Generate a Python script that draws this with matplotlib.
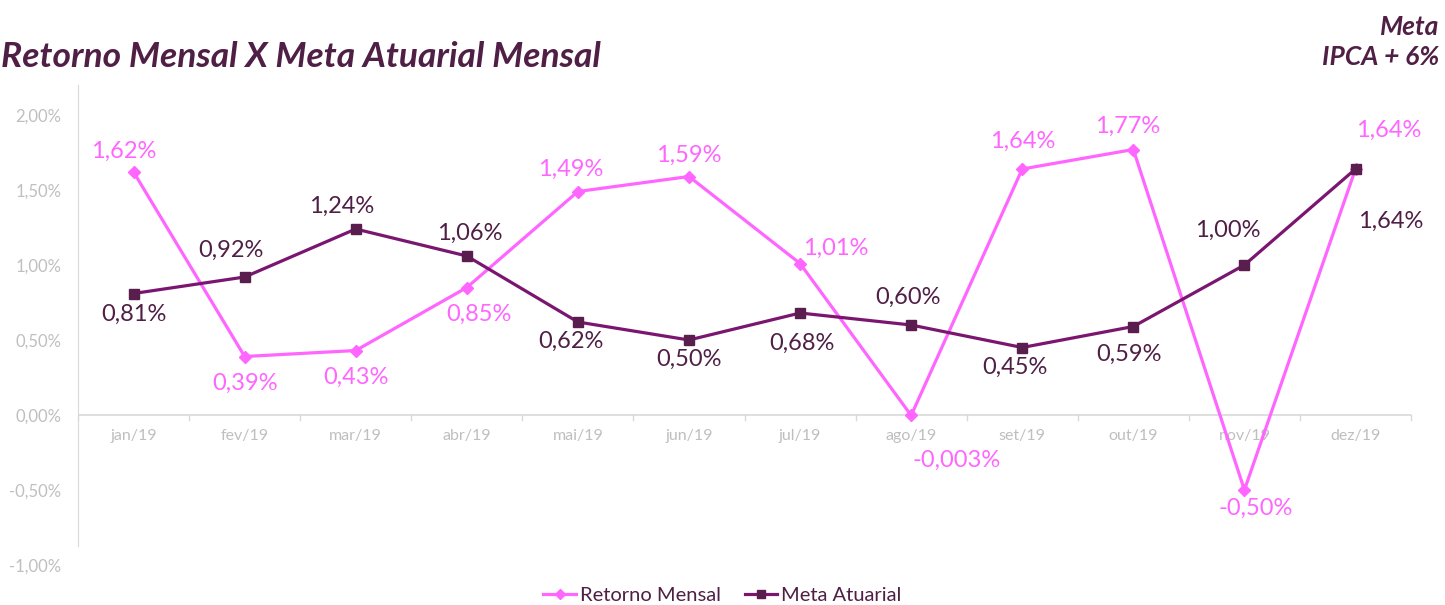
import matplotlib.pyplot as plt
from matplotlib.ticker import FuncFormatter

# data
months = ["jan/19", "fev/19", "mar/19", "abr/19", "mai/19", "jun/19",
          "jul/19", "ago/19", "set/19", "out/19", "nov/19", "dez/19"]
retorno = [1.62, 0.39, 0.43, 0.85, 1.49, 1.59, 1.01, -0.003, 1.64, 1.77, -0.50, 1.64]
meta = [0.81, 0.92, 1.24, 1.06, 0.62, 0.50, 0.68, 0.60, 0.45, 0.59, 1.00, 1.64]
retorno_labels = ["1,62%", "0,39%", "0,43%", "0,85%", "1,49%", "1,59%",
                  "1,01%", "-0,003%", "1,64%", "1,77%", "-0,50%", "1,64%"]
meta_labels = ["0,81%", "0,92%", "1,24%", "1,06%", "0,62%", "0,50%",
               "0,68%", "0,60%", "0,45%", "0,59%", "1,00%", "1,64%"]

# label offsets in points (dx, dy)
retorno_off = [(-7, 15), (0, -19), (0, -19), (9, -19), (-5, 16), (0, 15),
               (26, 11), (33, -32), (0, 20), (-4, 17), (8, -13), (24, 28)]
meta_off = [(0, -15), (-10, 19), (-10, 16), (2, 16), (-5, -14), (0, -14),
            (1, -22), (-2, 20), (-5, -14), (-3, -20), (-12, 25), (25, -38)]

PINK = "#FF66FF"
PURPLE = "#7B1670"
DARK = "#5A1E4E"
TEXT = "#4F1F45"
GRAY = "#BFBFBF"

plt.rcParams["font.family"] = ["Lato", "DejaVu Sans"]

fig = plt.figure(figsize=(14.45, 6.05), dpi=100)
ax = fig.add_axes([0.054, 0.0661, 0.9225, 0.7934])

x = list(range(len(months)))
ax.plot(x, retorno, color=PINK, lw=2.3, marker="D", ms=6.5, mfc=PINK, mec=PINK,
        label="Retorno Mensal", zorder=3)
ax.plot(x, meta, color=PURPLE, lw=2.3, marker="s", ms=7, mfc=DARK, mec=DARK,
        label="Meta Atuarial", zorder=3)

for i in x:
    ax.annotate(retorno_labels[i], (i, retorno[i]), xytext=retorno_off[i],
                textcoords="offset points", ha="center", va="center",
                fontsize=17, color=PINK, zorder=4)
    ax.annotate(meta_labels[i], (i, meta[i]), xytext=meta_off[i],
                textcoords="offset points", ha="center", va="center",
                fontsize=17, color=TEXT, zorder=4)

ax.set_xlim(-0.5, 11.5)
ax.set_ylim(-1.0, 2.2)
ax.set_yticks([-1.0, -0.5, 0.0, 0.5, 1.0, 1.5, 2.0])
ax.yaxis.set_major_formatter(FuncFormatter(lambda v, p: f"{v:.2f}%".replace(".", ",")))
ax.tick_params(axis="y", length=0, labelsize=12, labelcolor=GRAY, pad=12)

# category axis at zero, ticks between categories
for s in ["top", "right", "bottom"]:
    ax.spines[s].set_visible(False)
ax.spines["left"].set_color("#D9D9D9")
ax.spines["left"].set_bounds(-0.875, 2.2)
ax.axhline(0, color="#D9D9D9", lw=1.2, zorder=1)
ax.set_xticks([])
for i in range(len(months) + 1):
    ax.plot([i - 0.5, i - 0.5], [0, -0.03], color="#D9D9D9", lw=1, zorder=1, clip_on=False)
for i, m in enumerate(months):
    ax.text(i, -0.14, m, ha="center", va="center", fontsize=11.5, color=GRAY, zorder=2)

fig.text(0.001, 0.905, "Retorno Mensal X Meta Atuarial Mensal", ha="left", va="center",
         fontsize=25.5, fontweight="bold", fontstyle="italic", color=TEXT)
fig.text(0.996, 0.955, "Meta", ha="right", va="center",
         fontsize=19, fontweight="bold", fontstyle="italic", color=TEXT)
fig.text(0.996, 0.905, "IPCA + 6%", ha="right", va="center",
         fontsize=19, fontweight="bold", fontstyle="italic", color=TEXT)

leg = fig.legend(loc="center", bbox_to_anchor=(0.5, 0.015), ncol=2, frameon=False,
                 fontsize=14.5, handlelength=1.6, handletextpad=0.2, columnspacing=1.2,
                 markerscale=0.8)
for t in leg.get_texts():
    t.set_color(TEXT)

fig.savefig("out.png", dpi=100)
